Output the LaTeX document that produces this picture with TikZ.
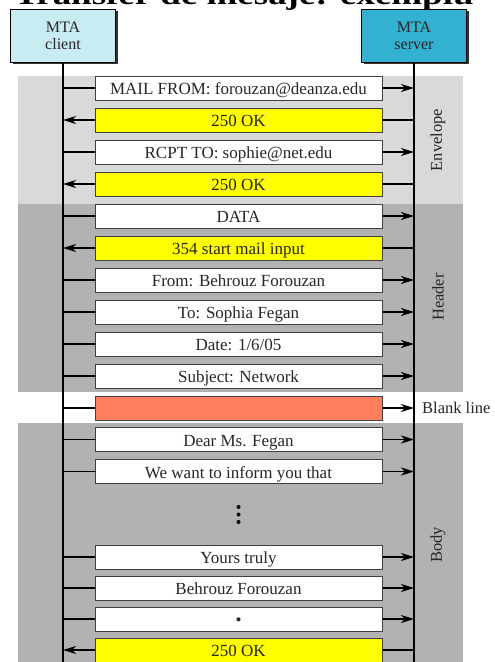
\documentclass[tikz,border=0pt]{standalone}
\usepackage{fontspec}
\setmainfont{Liberation Serif}
\usetikzlibrary{arrows.meta,shadows}

\definecolor{clientfill}{HTML}{C9EBF2}
\definecolor{serverfill}{HTML}{33B1D1}
\definecolor{envgray}{HTML}{D9D9D9}
\definecolor{partgray}{HTML}{B2B2B2}
\definecolor{blankfill}{HTML}{FF7F5F}
\definecolor{okfill}{HTML}{FFFF00}
\definecolor{edgegray}{HTML}{404040}

\tikzset{
  mta/.style={draw=black, line width=0.9pt, minimum width=105pt, minimum height=53pt,
    inner sep=0pt, align=center, font=\fontsize{16}{17}\selectfont, text=black!85,
    drop shadow={shadow xshift=2pt, shadow yshift=-2pt, fill=black!80, opacity=1}},
  msg/.style={draw=edgegray, line width=1pt, minimum width=287pt, minimum height=24pt,
    inner sep=0pt, text height=13pt, text depth=0pt,
    font=\fontsize{17}{19}\selectfont, text=black!85},
  wire/.style={line width=1.2pt},
  side/.style={rotate=90, font=\fontsize{16.5}{18}\selectfont, text=black!85},
}

\begin{document}
\begin{tikzpicture}[x=1pt, y=-1pt, >={Stealth[length=13pt,width=8pt,inset=4pt]}]
			\useasboundingbox (0,0) rectangle (495,662);
			% bands
			\fill[envgray] (18,76) rectangle (463,204);
			\fill[partgray] (18,204) rectangle (463,392);
			\fill[partgray] (18,423) rectangle (463,662);
			\node[anchor=base, xscale=1.32, font=\bfseries\fontsize{28}{30}\selectfont] (title) at (244,4.5) {Transfer de mesaje: exemplu};
			\node[mta, fill=clientfill] (client) at (63,35.5) {MTA\\client};
			\node[mta, fill=serverfill] (server) at (414,35.5) {MTA\\server};
			\coordinate (cbot) at (63,662);
			\coordinate (sbot) at (414,662);
			\draw[wire] (client) -- (cbot);
			\draw[wire] (server) -- (sbot);
			\foreach \y/\f/\a/\b/\t [count=\i] in {
				88/white/c/s/{MAIL FROM: forouzan@deanza.edu},
				120/okfill/s/c/{250 OK},
				152/white/c/s/{RCPT TO: sophie@net.edu},
				184/okfill/s/c/{250 OK},
				216/white/c/s/{DATA},
				248/okfill/s/c/{354 start mail input},
				280/white/c/s/{From: Behrouz Forouzan},
				312/white/c/s/{To: Sophia Fegan},
				344/white/c/s/{Date: 1/6/05},
				376/white/c/s/{Subject: Network},
				408/blankfill/c/s/{},
				439.5/white/c/s/{Dear Ms. Fegan},
				471.5/white/c/s/{We want to inform you that},
				557/white/c/s/{Yours truly},
				588/white/c/s/{Behrouz Forouzan},
				619/white/c/s/{\textbullet},
				650/okfill/s/c/{250 OK}}
			{
				\node[msg, fill=\f] (m\i) at (238.5,\y) {\t};
				\coordinate (c\i) at (63,\y);
				\coordinate (s\i) at (414,\y);
				\draw[wire] (\a\i) -- (m\i);
				\draw[wire,->] (m\i) -- (\b\i);
			}
			% vertical dots
			\foreach \d in {507,514.5,522}
				\fill (238.5,\d) circle (2pt);
			\node[side] (envelope) at (438,140) {Envelope};
			\node[side] (header) at (438,297) {Header};
			\node[side] (body) at (438,545) {Body};
			\node[anchor=west, inner sep=0pt, font=\fontsize{16.5}{18}\selectfont, text=black!85] (blank) at (422,408) {Blank line};
		\end{tikzpicture}
\end{document}
